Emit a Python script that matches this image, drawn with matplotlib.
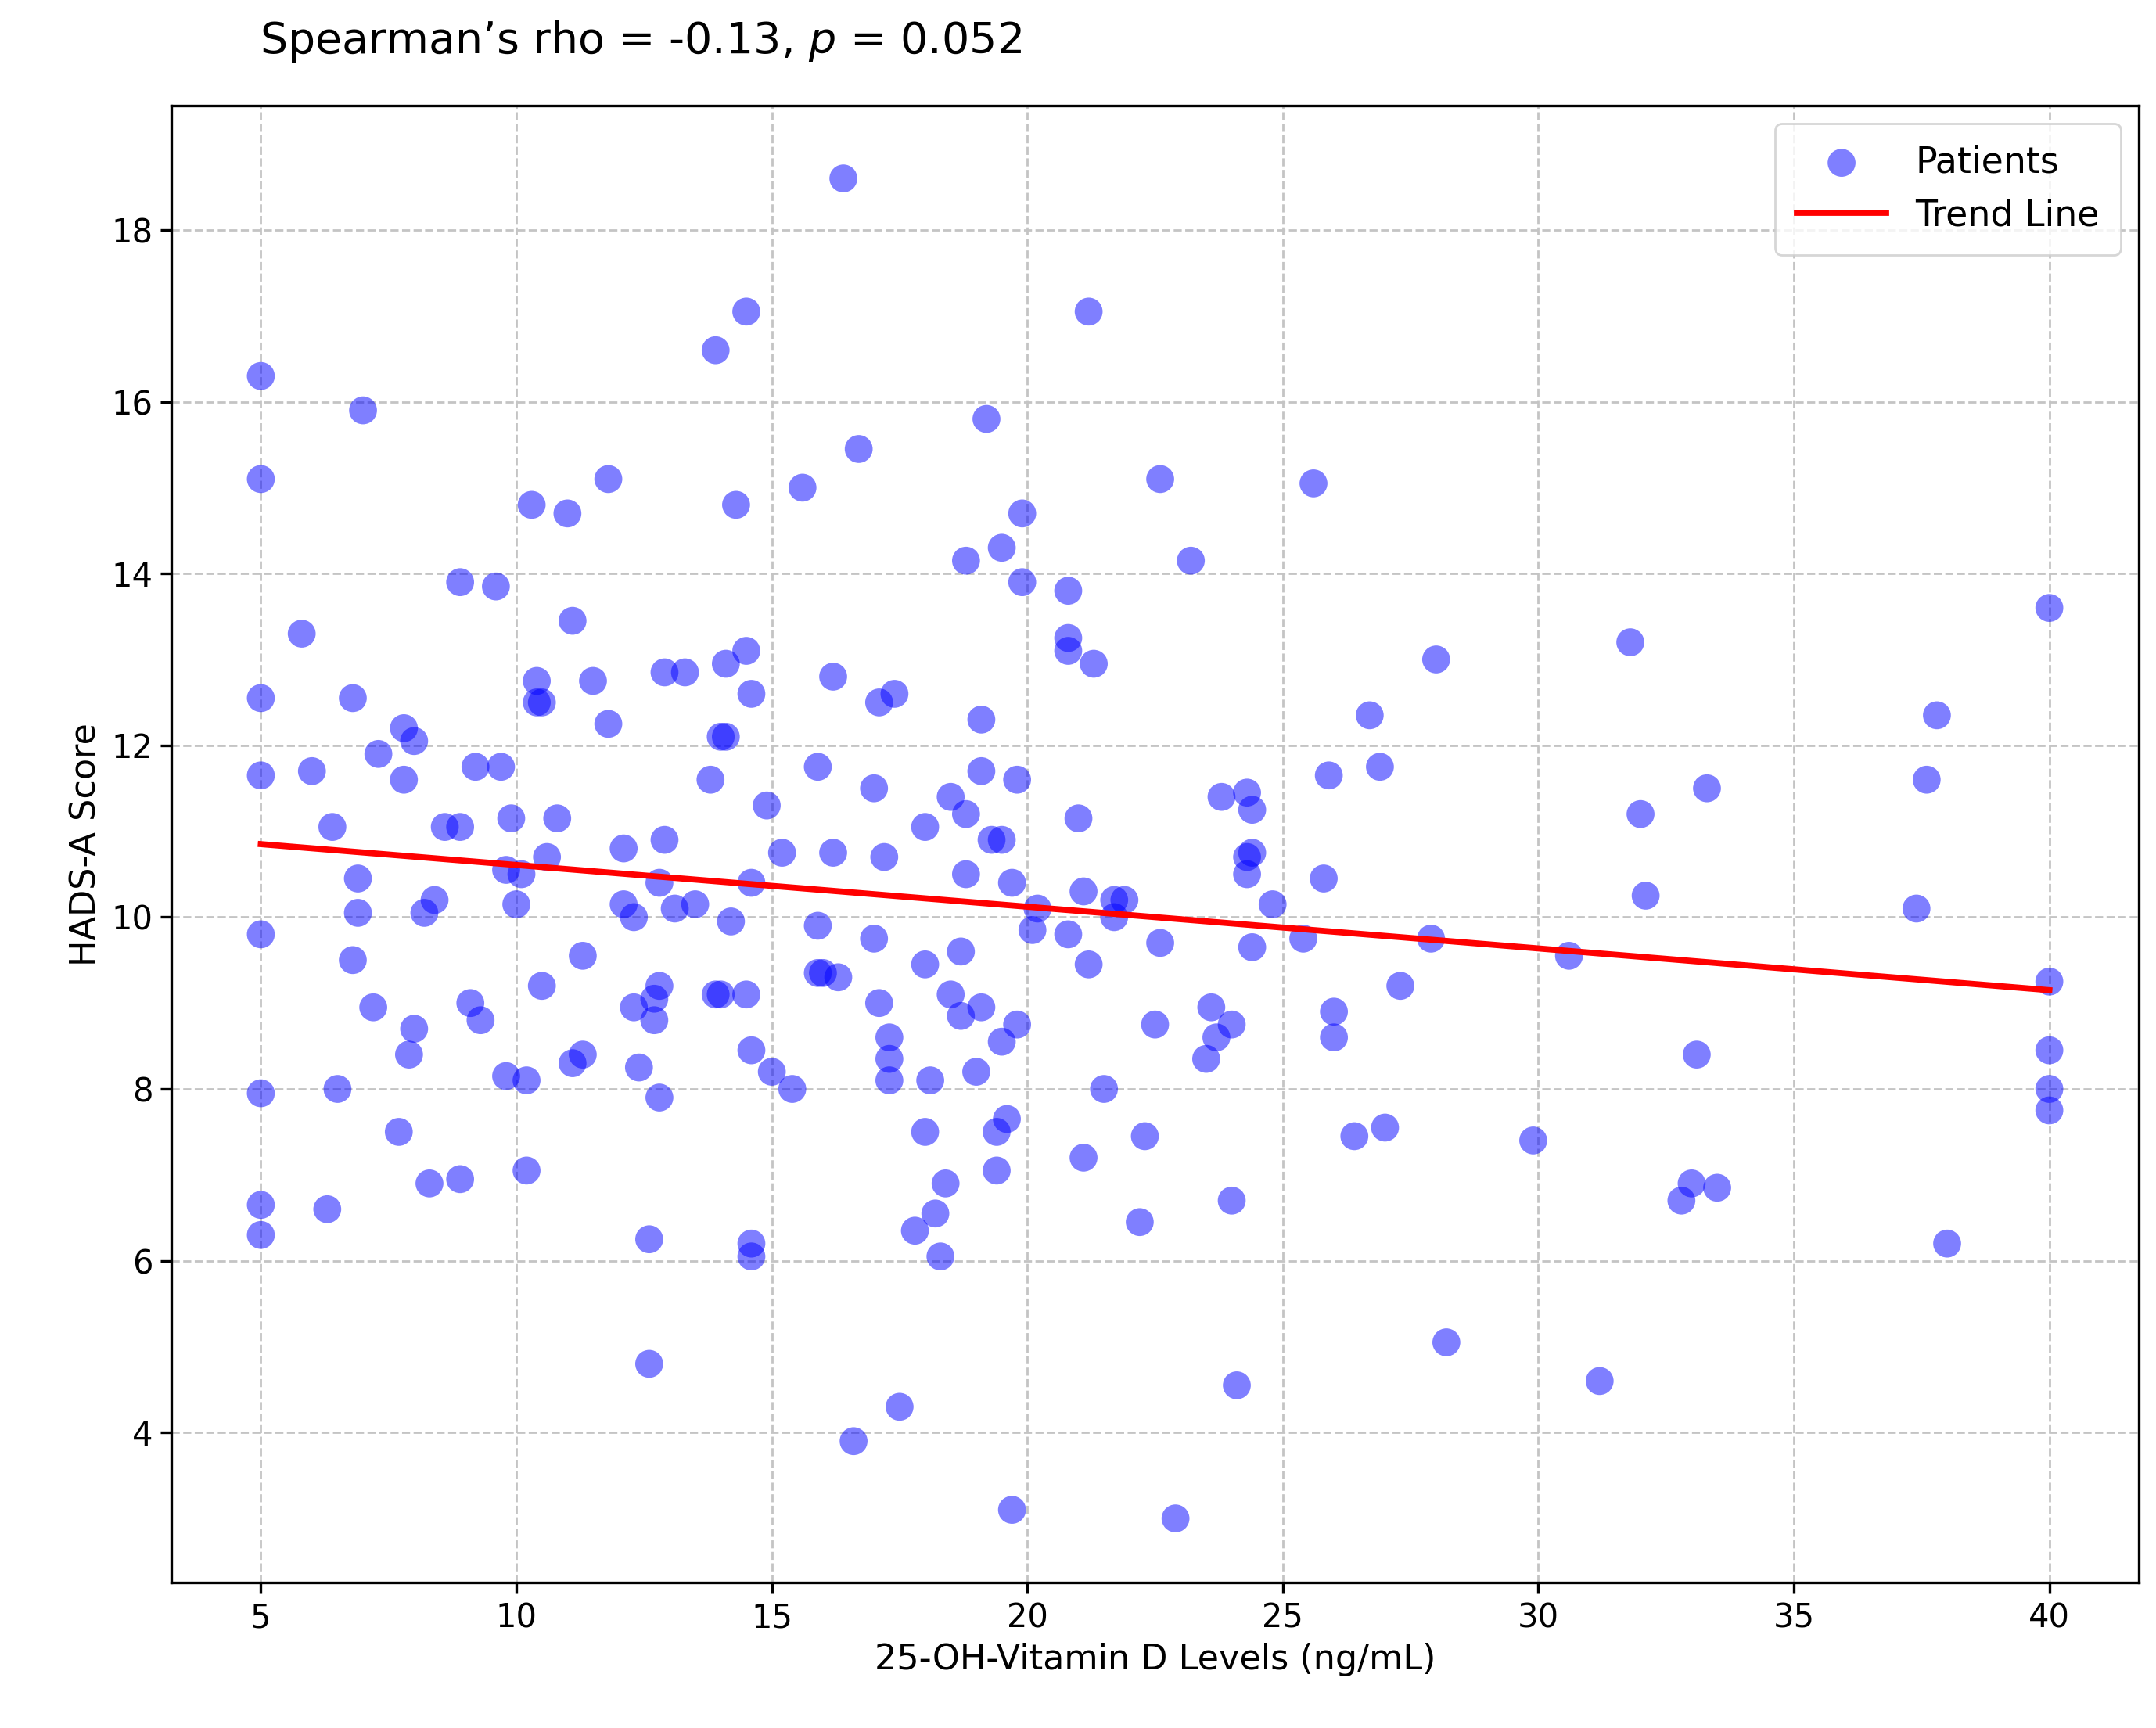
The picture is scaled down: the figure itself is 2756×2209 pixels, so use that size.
import numpy as np
import matplotlib
matplotlib.use("Agg")
import matplotlib.pyplot as plt

vitd = [5,5,5,5,5,5,5,5,5.8,6.0,6.3,6.4,6.5,6.8,6.8,6.9,6.9,7.0,7.3,7.2,7.8,7.8,7.9,7.7,8.0,8.0,8.2,8.3,8.4,8.6,8.9,8.9,8.9,9.2,9.1,9.3,9.6,9.7,9.8,9.9,9.8,10.0,10.1,10.2,10.2,10.3,10.4,10.4,10.5,10.5,10.6,10.8,11.0,11.1,11.1,11.3,11.3,11.5,11.8,11.8,12.1,12.1,12.3,12.3,12.4,12.6,12.6,12.7,12.7,12.8,12.8,12.8,12.9,12.9,13.1,13.3,13.5,13.8,13.9,13.9,14.0,14.0,14.1,14.1,14.2,14.3,14.5,14.5,14.6,14.6,14.5,14.6,14.6,14.6,14.9,15.0,15.2,15.4,15.6,15.9,15.9,15.9,16.0,16.2,16.2,16.3,16.4,16.6,16.7,17.0,17.0,17.1,17.1,17.2,17.3,17.3,17.3,17.4,17.5,17.8,18.0,18.0,18.0,18.1,18.2,18.3,18.4,18.5,18.5,18.7,18.7,18.8,18.8,18.8,19.0,19.1,19.1,19.1,19.2,19.3,19.4,19.4,19.5,19.5,19.5,19.6,19.7,19.8,19.8,19.7,19.9,19.9,20.1,20.2,20.8,20.8,20.8,20.8,21.0,21.1,21.2,21.1,21.2,21.3,21.5,21.7,21.7,21.9,22.2,22.3,22.5,22.6,22.6,22.9,23.2,23.5,23.6,23.7,23.8,24.0,24.0,24.1,24.3,24.3,24.3,24.4,24.4,24.4,24.8,25.4,25.6,25.8,25.9,26.0,26.0,26.4,26.7,26.9,27.0,27.3,27.9,28.0,28.2,29.9,30.6,31.2,31.8,32.0,32.1,32.8,33.0,33.1,33.3,33.5,37.4,37.6,37.8,38.0,40,40,40,40,40]
hads = [16.3,15.1,12.55,11.65,9.8,7.95,6.65,6.3,13.3,11.7,6.6,11.05,8.0,12.55,9.5,10.45,10.05,15.9,11.9,8.95,12.2,11.6,8.4,7.5,12.05,8.7,10.05,6.9,10.2,11.05,11.05,13.9,6.95,11.75,9.0,8.8,13.85,11.75,10.55,11.15,8.15,10.15,10.5,8.1,7.05,14.8,12.75,12.5,12.5,9.2,10.7,11.15,14.7,13.45,8.3,9.55,8.4,12.75,15.1,12.25,10.8,10.15,10.0,8.95,8.25,6.25,4.8,9.05,8.8,10.4,9.2,7.9,10.9,12.85,10.1,12.85,10.15,11.6,16.6,9.1,9.1,12.1,12.1,12.95,9.95,14.8,17.05,13.1,12.6,10.4,9.1,8.45,6.2,6.05,11.3,8.2,10.75,8.0,15.0,11.75,9.9,9.35,9.35,12.8,10.75,9.3,18.6,3.9,15.45,11.5,9.75,12.5,9.0,10.7,8.6,8.35,8.1,12.6,4.3,6.35,11.05,9.45,7.5,8.1,6.55,6.05,6.9,9.1,11.4,8.85,9.6,11.2,10.5,14.15,8.2,12.3,11.7,8.95,15.8,10.9,7.5,7.05,8.55,10.9,14.3,7.65,10.4,11.6,8.75,3.1,13.9,14.7,9.85,10.1,13.8,13.25,13.1,9.8,11.15,10.3,9.45,7.2,17.05,12.95,8.0,10.0,10.2,10.2,6.45,7.45,8.75,9.7,15.1,3.0,14.15,8.35,8.95,8.6,11.4,8.75,6.7,4.55,10.7,10.5,11.45,10.75,11.25,9.65,10.15,9.75,15.05,10.45,11.65,8.9,8.6,7.45,12.35,11.75,7.55,9.2,9.75,13.0,5.05,7.4,9.55,4.6,13.2,11.2,10.25,6.7,6.9,8.4,11.5,6.85,10.1,11.6,12.35,6.2,13.6,9.25,8.45,8.0,7.75]
trend_x = [5, 40]
trend_y = [10.85, 9.15]

fig = plt.figure(figsize=(13.78, 11.045), dpi=200)
ax = fig.add_axes([0.0795, 0.084, 0.9125, 0.855])
ax.scatter(vitd, hads, s=165, color="blue", alpha=0.5, edgecolors="none", label="Patients", zorder=3)
ax.plot(trend_x, trend_y, color="red", lw=2.8, label="Trend Line", zorder=4)
ax.set_xlim(3.25, 41.75)
ax.set_ylim(2.25, 19.45)
ax.set_xticks(range(5, 41, 5))
ax.set_yticks(range(4, 19, 2))
ax.tick_params(labelsize=15, length=5, width=1.2)
ax.grid(True, linestyle="--", color="#c4c4c4", lw=1.0)
for s in ax.spines.values():
    s.set_linewidth(1.2)
ax.set_xlabel("25-OH-Vitamin D Levels (ng/mL)", fontsize=16)
ax.set_ylabel("HADS-A Score", fontsize=16)
ax.legend(loc="upper right", fontsize=16.5, markerscale=1.0, borderpad=0.6, handlelength=2.5)
fig.text(0.1205, 0.976, "Spearman\u2019s rho = -0.13, $p$ = 0.052", fontsize=20, ha="left", va="center")
fig.savefig("out.png", dpi=200)
